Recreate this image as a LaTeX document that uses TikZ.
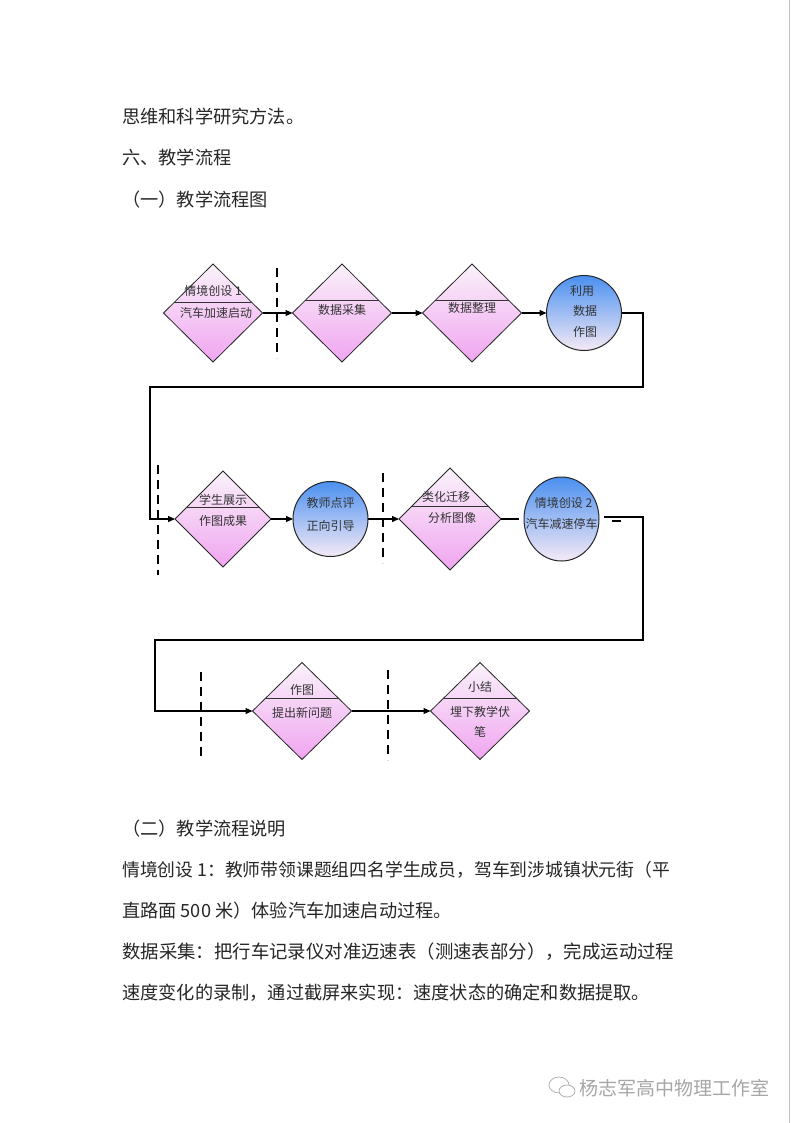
\documentclass[tikz,border=0pt]{standalone}
\usepackage{fontspec}
\setmainfont{Noto Sans CJK SC}
\usetikzlibrary{arrows.meta,positioning,calc,shapes.geometric}

\definecolor{pinktop}{RGB}{250,242,250}
\definecolor{pinkbot}{RGB}{240,165,240}
\definecolor{bluetop}{RGB}{74,144,240}
\definecolor{bluebot}{RGB}{246,234,246}

\begin{document}
\begin{tikzpicture}[x=1pt,y=-1pt,
  phase/.style={diamond,draw=black!85,line width=.8pt,inner sep=0pt,outer sep=0pt,
    minimum width=99pt,minimum height=98pt,top color=pinktop,bottom color=pinkbot},
  review/.style={circle,draw=black!85,line width=1pt,inner sep=0pt,outer sep=0pt,
    minimum size=75pt,top color=bluetop,bottom color=bluebot},
  reviewwide/.style={review,ellipse,minimum width=75pt,minimum height=84pt},
  divider/.style={draw=black!80,line width=.8pt},
  barrier/.style={line width=2.6pt,dash pattern=on 9pt off 6pt},
  flow/.style={line width=1.1pt},
  tip/.style={-{Triangle[length=7pt,width=6pt]}},
  lbl/.style={font=\fontsize{12}{14}\selectfont,text=black!80,inner sep=0pt},
  para/.style={font=\fontsize{18.2}{22}\selectfont,text=black!85,anchor=west,inner sep=0pt}
]
  \useasboundingbox (0,0) rectangle (796,1123);
  \fill[white] (0,0) rectangle (796,1123);
  \draw[black!25,line width=1pt] (789,0) -- (789,1123);

  % text above
  \node[para] (p1) at (122,117) {思维和科学研究方法。};
  \node[para] (p2) at (122,158) {六、教学流程};
  \node[para] (p3) at (122,200) {（一）教学流程图};

  % row 1
  \node[phase]  (d1) at (213,313)          {};
  \node[phase]  (d2) [right=30pt of d1]    {};
  \node[phase]  (d3) [right=31pt of d2]    {};
  \node[review] (c1) [right=25pt of d3]    {};

  % row 2
  \node[phase,minimum width=96pt,minimum height=96pt] (d4) at (223,519) {};
  \node[review]     (c2) [right=22pt of d4] {};
  \node[phase,minimum width=102pt,minimum height=102pt] (d5) [right=31pt of c2] {};
  \node[reviewwide] (c3) [right=23pt of d5] {};

  % row 3
  \node[phase,minimum height=97pt] (d6) at (302,711)       {};
  \node[phase,minimum height=97pt] (d7) [right=79pt of d6] {};

  % dividers
  \draw[divider] ($(d1.west)!.22!(d1.north)$) -- ($(d1.east)!.22!(d1.north)$);
  \foreach \n in {d2,d3,d4,d5}
    \draw[divider] ($(\n.west)!.25!(\n.north)$) -- ($(\n.east)!.25!(\n.north)$);
  \foreach \n in {d6,d7}
    \draw[divider] ($(\n.west)!.27!(\n.north)$) -- ($(\n.east)!.27!(\n.north)$);

  % labels
  \node[lbl] (d1a) at ([yshift=22pt]d1.center)  {情境创设 1};
  \node[lbl] (d1b) at ([xshift=3pt]d1.center)   {汽车加速启动};
  \node[lbl] (d2a) at ([yshift=3pt]d2.center)   {数据采集};
  \node[lbl] (d3a) at ([yshift=5pt]d3.center)   {数据整理};
  \node[lbl] (c1a) at ([xshift=-2pt,yshift=22pt]c1.center) {利用};
  \node[lbl] (c1b) at ([xshift=1pt,yshift=2pt]c1.center)   {数据};
  \node[lbl] (c1c) at ([xshift=1pt,yshift=-19pt]c1.center) {作图};
  \node[lbl] (d4a) at ([yshift=19pt]d4.center)  {学生展示};
  \node[lbl] (d4b) at ([yshift=-2pt]d4.center)  {作图成果};
  \node[lbl] (c2a) at ([yshift=16pt]c2.center)  {教师点评};
  \node[lbl] (c2b) at ([yshift=-7pt]c2.center)  {正向引导};
  \node[lbl] (d5a) at ([xshift=-4pt,yshift=22pt]d5.center) {类化迁移};
  \node[lbl] (d5b) at ([xshift=2pt,yshift=1pt]d5.center)   {分析图像};
  \node[lbl] (c3a) at ([xshift=2pt,yshift=16pt]c3.center)  {情境创设 2};
  \node[lbl] (c3b) at ([yshift=-5pt]c3.center)  {汽车减速停车};
  \node[lbl] (d6a) at ([yshift=21pt]d6.center)  {作图};
  \node[lbl] (d6b) at ([yshift=-2pt]d6.center)  {提出新问题};
  \node[lbl] (d7a) at ([yshift=24pt]d7.center)  {小结};
  \node[lbl] (d7b) at ([yshift=-1pt]d7.center)  {埋下教学伏};
  \node[lbl] (d7c) at ([yshift=-21pt]d7.center) {笔};

  % dashed barriers
  \draw[barrier] (277,268) -- (277,358);
  \draw[barrier] (158,465) -- (158,575);
  \draw[barrier] (383,473) -- (383,563);
  \draw[barrier] (201,672) -- (201,758);
  \draw[barrier] (388,670) -- (388,760);

  % connectors
  \coordinate (t1) at (643,387);
  \coordinate (t2) at (150,387);
  \coordinate (t3) at (643,640);
  \coordinate (t4) at (155,640);
  \draw[flow,tip] (d1.east) -- (d2.west);
  \draw[flow,tip] (d2.east) -- (d3.west);
  \draw[flow,tip] (d3.east) -- (c1.west);
  \draw[flow,tip] (c1.east) -| (t1) -- (t2) |- (d4.west);
  \draw[flow,tip] (d4.east) -- (c2.west);
  \draw[flow,tip] (c2.east) -- (d5.west);
  \draw[flow] (d5.east) -- ([xshift=-5pt]c3.west);
  \draw[flow,tip] ([xshift=5pt,yshift=2pt]c3.east) -| (t3) -- (t4) |- (d6.west);
  \draw[flow] ([xshift=13pt,yshift=-2pt]c3.east) -- ++(9,0);
  \draw[flow,tip] (d6.east) -- (d7.west);

  % text below
  \node[para] (p4) at (122,829) {（二）教学流程说明};
  \node[para,font=\fontsize{17.8}{22}\selectfont] (p5) at (122,870) {情境创设 1：教师带领课题组四名学生成员，驾车到涉城镇状元街（平};
  \node[para] (p6) at (122,911) {直路面 500 米）体验汽车加速启动过程。};
  \node[para,font=\fontsize{18.4}{22}\selectfont] (p7) at (122,952) {数据采集：把行车记录仪对准迈速表（测速表部分），完成运动过程};
  \node[para] (p8) at (122,993) {速度变化的录制，通过截屏来实现：速度状态的确定和数据提取。};

  % watermark
  \draw[black!30,line width=.8pt] (559,1085) ellipse (10 and 8);
  \draw[black!30,line width=.8pt,fill=white] (567,1091) ellipse (8 and 6);
  \node[para,font=\fontsize{19}{22}\selectfont,text=black!35] (wm) at (579,1088) {杨志军高中物理工作室};
\end{tikzpicture}
\end{document}
